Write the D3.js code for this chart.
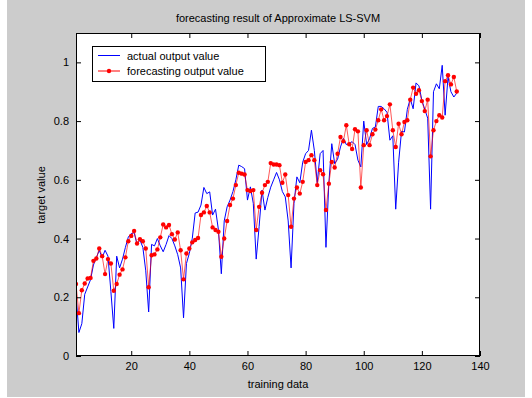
<!DOCTYPE html>
<html><head><meta charset="utf-8">
<script src="https://cdn.jsdelivr.net/npm/d3@7"></script>
<style>html,body{margin:0;padding:0;background:#fff;}svg{display:block;font-family:"Liberation Sans",Arial,Helvetica,sans-serif;}</style>
</head><body>
<svg id="c" width="532" height="398"></svg>
<script>
const titleText = "forecasting result of Approximate LS-SVM";
const xLabel = "training data";
const yLabel = "target value";
const legendLabels = ["actual output value", "forecasting output value"];
const xTicks = [20, 40, 60, 80, 100, 120, 140];
const yTicks = [0, 0.2, 0.4, 0.6, 0.8, 1];
const yTickLabels = ["0", "0.2", "0.4", "0.6", "0.8", "1"];

const actual = [
0.21,0.08,0.11,0.21,0.235,0.26,0.31,0.335,0.36,0.335,
0.36,0.34,0.22,0.094,0.34,0.30,0.33,0.37,0.405,0.417,
0.42,0.38,0.395,0.37,0.29,0.15,0.38,0.375,0.40,0.375,
0.355,0.38,0.41,0.40,0.375,0.345,0.30,0.13,0.315,0.35,
0.40,0.487,0.49,0.514,0.574,0.553,0.559,0.48,0.50,0.43,
0.28,0.46,0.508,0.531,0.56,0.60,0.65,0.645,0.638,0.531,
0.576,0.52,0.33,0.44,0.565,0.497,0.54,0.575,0.60,0.625,
0.60,0.56,0.542,0.46,0.30,0.52,0.61,0.59,0.66,0.689,
0.70,0.769,0.70,0.59,0.689,0.70,0.37,0.59,0.723,0.655,
0.67,0.712,0.741,0.72,0.723,0.73,0.72,0.667,0.644,0.80,
0.72,0.74,0.775,0.78,0.85,0.85,0.842,0.83,0.735,0.75,
0.50,0.66,0.765,0.763,0.84,0.876,0.842,0.93,0.92,0.871,
0.84,0.81,0.50,0.90,0.927,0.91,0.99,0.82,0.95,0.90,
0.882,0.895
];
const forecast = [
0.245,0.146,0.224,0.247,0.264,0.266,0.324,0.332,0.366,0.34,
0.279,0.33,0.315,0.222,0.245,0.277,0.295,0.336,0.391,0.409,
0.426,0.383,0.398,0.391,0.366,0.234,0.343,0.346,0.363,0.404,
0.448,0.438,0.446,0.415,0.397,0.421,0.36,0.261,0.349,0.366,
0.387,0.395,0.402,0.48,0.489,0.511,0.489,0.438,0.429,0.423,
0.338,0.40,0.46,0.514,0.536,0.582,0.624,0.621,0.618,0.565,
0.562,0.565,0.429,0.508,0.556,0.582,0.593,0.657,0.652,0.652,
0.65,0.59,0.618,0.548,0.44,0.536,0.574,0.553,0.593,0.661,
0.667,0.684,0.667,0.582,0.633,0.619,0.497,0.587,0.661,0.642,
0.689,0.746,0.731,0.786,0.721,0.705,0.772,0.765,0.574,0.718,
0.769,0.718,0.755,0.771,0.803,0.84,0.803,0.817,0.857,0.769,
0.712,0.791,0.755,0.797,0.803,0.873,0.914,0.893,0.905,0.868,
0.834,0.873,0.68,0.769,0.80,0.82,0.812,0.936,0.956,0.925,
0.95,0.901
];

const svg = d3.select("#c");
const L = 76, R = 480, T = 33, B = 356;

svg.append("rect").attr("x", 7).attr("y", 0).attr("width", 518).attr("height", 397).attr("fill", "#cccccc");
svg.append("rect").attr("x", L).attr("y", T).attr("width", R - L).attr("height", B - T).attr("fill", "#fff");

const x = d3.scaleLinear().domain([1, 140]).range([L, R]);
const y = d3.scaleLinear().domain([0, 1.1]).range([B, T]);

svg.append("clipPath").attr("id", "clip").append("rect")
  .attr("x", L).attr("y", T).attr("width", R - L).attr("height", B - T);

const g = svg.append("g").attr("clip-path", "url(#clip)");
const line = d3.line().x((d, i) => x(i + 1)).y(d => y(d));

g.append("path").datum(actual).attr("d", line).attr("fill", "none")
  .attr("stroke", "#0000ff").attr("stroke-width", 1);
g.append("path").datum(forecast).attr("d", line).attr("fill", "none")
  .attr("stroke", "#ff0000").attr("stroke-opacity", 0.65).attr("stroke-width", 1);
g.selectAll("circle.f").data(forecast).join("circle").attr("class", "f")
  .attr("cx", (d, i) => x(i + 1)).attr("cy", d => y(d)).attr("r", 2.2).attr("fill", "#ff0000");

// axes
const fmtY = (d) => yTickLabels[yTicks.indexOf(d)];
const axB = svg.append("g").attr("transform", `translate(0,${B})`)
  .call(d3.axisBottom(x).tickValues(xTicks).tickSizeInner(-5).tickSizeOuter(0).tickPadding(6).tickFormat(d3.format("d")));
const axT = svg.append("g").attr("transform", `translate(0,${T})`)
  .call(d3.axisTop(x).tickValues(xTicks).tickSizeInner(-5).tickSizeOuter(0).tickFormat(""));
const axL = svg.append("g").attr("transform", `translate(${L},0)`)
  .call(d3.axisLeft(y).tickValues(yTicks).tickSizeInner(-5).tickSizeOuter(0).tickPadding(7).tickFormat(fmtY));
const axR = svg.append("g").attr("transform", `translate(${R},0)`)
  .call(d3.axisRight(y).tickValues(yTicks).tickSizeInner(-5).tickSizeOuter(0).tickFormat(""));
[axB, axT, axL, axR].forEach(a => {
  a.select(".domain").remove();
  a.selectAll("line").attr("stroke", "#000");
  a.selectAll("text").attr("fill", "#000").style("font-size", "11px").style("font-family", "'Liberation Sans',Arial,sans-serif");
});
svg.append("rect").attr("x", L + 0.5).attr("y", T + 0.5).attr("width", R - L - 1).attr("height", B - T - 1)
  .attr("fill", "none").attr("stroke", "#000").attr("stroke-width", 1);

// labels
svg.append("text").attr("x", 278).attr("y", 22).attr("text-anchor", "middle").style("font-size", "11px").text(titleText);
svg.append("text").attr("x", 278).attr("y", 388).attr("text-anchor", "middle").style("font-size", "11px").text(xLabel);
svg.append("text").attr("transform", "translate(45,195) rotate(-90)").attr("text-anchor", "middle").style("font-size", "11px").text(yLabel);

// legend
const lg = svg.append("g");
lg.append("rect").attr("x", 92.5).attr("y", 46.5).attr("width", 173).attr("height", 35).attr("fill", "#fff").attr("stroke", "#000");
const rows = [{c: "#0000ff", dot: false}, {c: "#ff0000", dot: true}];
rows.forEach((r, k) => {
  const yy = 55.5 + k * 15.5;
  lg.append("line").attr("x1", 98).attr("x2", 120).attr("y1", yy).attr("y2", yy).attr("stroke", r.c);
  if (r.dot) lg.append("circle").attr("cx", 109).attr("cy", yy).attr("r", 2.2).attr("fill", r.c);
  lg.append("text").attr("x", 127).attr("y", yy + 4).style("font-size", "11px").text(legendLabels[k]);
});
</script>
</body></html>
